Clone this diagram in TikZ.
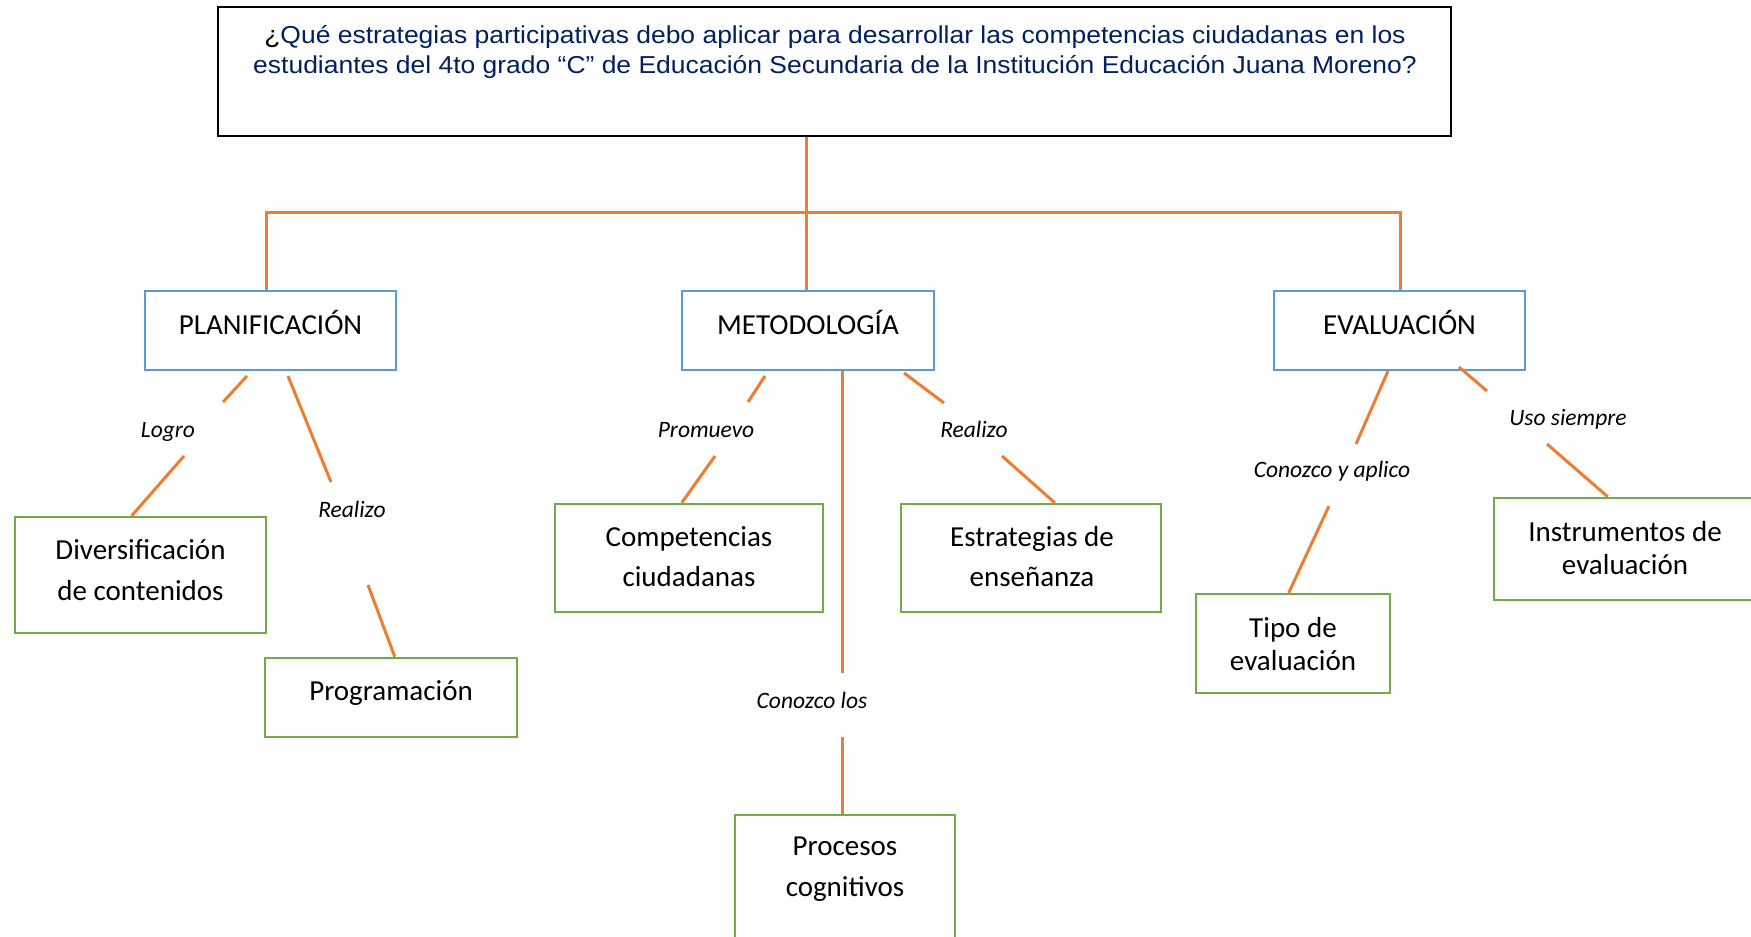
\documentclass[tikz,border=0pt]{standalone}
\usepackage{fontspec}
\setmainfont{Carlito}
\newfontfamily\arialf[FakeStretch=1.08]{Liberation Sans}
\definecolor{lineor}{RGB}{237,125,49}
\definecolor{boxblue}{RGB}{91,155,213}
\definecolor{boxgreen}{RGB}{112,173,71}
\definecolor{navyq}{RGB}{0,32,96}
\begin{document}
\begin{tikzpicture}[x=1pt,y=-1pt,
  conn/.style={draw=lineor, line width=3pt},
  bluebox/.style={draw=boxblue, line width=2pt, rectangle, inner sep=0pt},
  greenbox/.style={draw=boxgreen, line width=2.5pt, rectangle, inner sep=0pt},
  topbox/.style={draw=black, line width=1.5pt, rectangle, inner sep=0pt},
  boxtxt/.style={font=\fontsize{29}{35}\selectfont, anchor=base, inner sep=0pt},
  lbl/.style={font=\itshape\fontsize{23.5}{28}\selectfont, anchor=base, inner sep=0pt},
  qtxt/.style={font=\arialf\fontsize{24.5}{30}\selectfont, text=navyq, anchor=base, inner sep=0pt}]
\useasboundingbox (0,0) rectangle (1751,937);

% question box
\node[topbox, minimum width=1233pt, minimum height=129pt] (q) at (834.5,71.5) {};
\node[qtxt] (q1) at (835,43.5) {\textcolor{black}{¿}Qué estrategias participativas debo aplicar para desarrollar las competencias ciudadanas en los};
\node[qtxt] (q2) at (835,73.5) {estudiantes del 4to grado “C” de Educación Secundaria de la Institución Educación Juana Moreno?};

% level 1 boxes
\node[bluebox, minimum width=251pt, minimum height=79pt] (plan) at (270.5,330.5) {};
\node[boxtxt] (planT) at (270.5,334) {PLANIFICACIÓN};
\node[bluebox, minimum width=252pt, minimum height=79pt] (meto) at (808,330.5) {};
\node[boxtxt] (metoT) at (808,334) {METODOLOGÍA};
\node[bluebox, minimum width=251pt, minimum height=79pt] (eval) at (1399.5,330.5) {};
\node[boxtxt] (evalT) at (1399.5,334) {EVALUACIÓN};

% level 2 boxes
\node[greenbox, minimum width=251pt, minimum height=116pt] (div) at (140.5,575) {};
\node[boxtxt] (divT1) at (140.5,559.5) {Diversificación};
\node[boxtxt] (divT2) at (140.5,600.5) {de contenidos};

\node[greenbox, minimum width=252pt, minimum height=79pt] (prog) at (391,697.5) {};
\node[boxtxt] (progT) at (391,700.5) {Programación};

\node[greenbox, minimum width=268pt, minimum height=108pt] (comp) at (689,558) {};
\node[boxtxt] (compT1) at (689,546.5) {Competencias};
\node[boxtxt] (compT2) at (689,586.5) {ciudadanas};

\node[greenbox, minimum width=260pt, minimum height=108pt] (estr) at (1031,558) {};
\node[boxtxt] (estrT1) at (1032,546.5) {Estrategias de};
\node[boxtxt] (estrT2) at (1032,586.5) {enseñanza};

\node[greenbox, minimum width=220pt, minimum height=130pt] (proc) at (845,880) {};
\node[boxtxt] (procT1) at (845,855.5) {Procesos};
\node[boxtxt] (procT2) at (845,896.5) {cognitivos};

\node[greenbox, minimum width=194pt, minimum height=99pt] (tipo) at (1293,643.5) {};
\node[boxtxt] (tipoT1) at (1293,637.5) {Tipo de};
\node[boxtxt] (tipoT2) at (1293,670.5) {evaluación};

\node[greenbox, minimum width=263pt, minimum height=102pt] (instr) at (1625.5,549) {};
\node[boxtxt] (instrT1) at (1625,541.5) {Instrumentos de};
\node[boxtxt] (instrT2) at (1625,574.5) {evaluación};

% trunk
\coordinate (hub) at (806,212);
\coordinate (hl) at (266,212);
\coordinate (hr) at (1400,212);
\draw[conn] (q.south -| hub) -- (meto.north -| hub);
\draw[conn] (plan.north -| hl) -- (hl) -- (hr) -- (eval.north -| hr);

% gap coordinates
\coordinate (lgA) at (223,402);  \coordinate (lgB) at (184,456);
\coordinate (rlA) at (331,482);  \coordinate (rlB) at (368,585);
\coordinate (pmA) at (748,402);  \coordinate (pmB) at (715,456);
\coordinate (rmA) at (944,403);  \coordinate (rmB) at (1002,456);
\coordinate (clA) at (842,673);  \coordinate (clB) at (842,737);
\coordinate (caA) at (1356,444); \coordinate (caB) at (1329,506);
\coordinate (usA) at (1487,391); \coordinate (usB) at (1547,444);

% connectors
\draw[conn] ([xshift=103pt,yshift=-5pt]plan.south west) -- (lgA);
\draw[conn] (lgB) -- ([xshift=118pt]div.north west);
\draw[conn] ([xshift=144pt,yshift=-5pt]plan.south west) -- (rlA);
\draw[conn] (rlB) -- ([xshift=131pt]prog.north west);

\draw[conn] ([xshift=84pt,yshift=-5pt]meto.south west) -- (pmA);
\draw[conn] (pmB) -- ([xshift=128pt]comp.north west);
\draw[conn] ([xshift=223pt,yshift=-2pt]meto.south west) -- (rmA);
\draw[conn] (rmB) -- ([xshift=155pt]estr.north west);
\draw[conn] (meto.south -| clA) -- (clA);
\draw[conn] (clB) -- (proc.north -| clB);

\draw[conn] ([xshift=115pt]eval.south west) -- (caA);
\draw[conn] (caB) -- ([xshift=94pt]tipo.north west);
\draw[conn] ([xshift=186pt,yshift=4pt]eval.south west) -- (usA);
\draw[conn] (usB) -- ([xshift=115pt]instr.north west);

% labels
\node[lbl] (lLogro) at (168,437.5) {Logro};
\node[lbl] (lReal1) at (352,517.5) {Realizo};
\node[lbl] (lProm) at (706,437.5) {Promuevo};
\node[lbl] (lReal2) at (974,437.5) {Realizo};
\node[lbl] (lConL) at (812,708.5) {Conozco los};
\node[lbl] (lConA) at (1332,477.5) {Conozco y aplico};
\node[lbl] (lUso) at (1568,425.5) {Uso siempre};
\end{tikzpicture}
\end{document}
